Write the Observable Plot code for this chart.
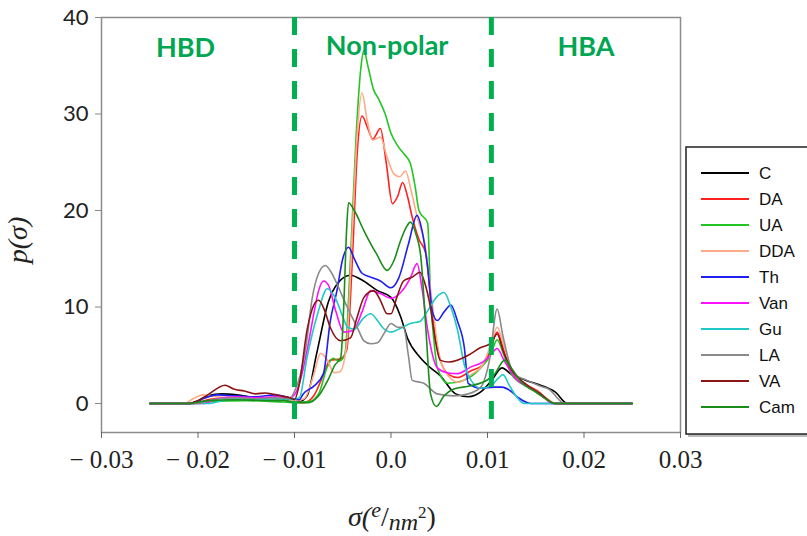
<!DOCTYPE html>
<html><head><meta charset="utf-8">
<script src="https://cdn.jsdelivr.net/npm/d3@7"></script>
<script src="https://cdn.jsdelivr.net/npm/@observablehq/plot@0.6"></script>
<style>body{margin:0;background:#fff} #chart{width:807px;height:536px}</style>
</head><body><div id="chart"></div>
<script>
// sigma in units of 0.001 e/nm^2, p(sigma)
const seriesNames = ["C","DA","UA","DDA","Th","Van","Gu","LA","VA","Cam"];
const seriesColors = ["#000000","#ff2020","#22c622","#ffaa88","#1f1ff0","#ff10ff","#20c8c8","#8a8a8a","#8b1515","#1a8c1a"];

const C = [[-25,0],[-21,0],[-20,0.3],[-19,0.8],[-17.5,1.0],[-16,0.9],[-14,0.6],[-12,0.5],[-10.5,0.3],[-9.5,0.2],[-8.7,0.8],[-7.7,5.2],[-6.5,10.5],[-5.5,12.5],[-4.2,13.3],[-3,12.8],[-1.4,11.7],[0,11],[1,9],[1.7,6.8],[3,4.8],[4.1,3.7],[5.1,2.9],[6.7,1.0],[8,0.7],[9.3,1.2],[10.5,2.5],[11.5,3.7],[12.5,3.0],[14,2.4],[15.5,1.9],[17,1.2],[18.3,0],[25,0]];
const DA = [[-25,0],[-20.5,0],[-19,0.4],[-17,0.6],[-15,0.5],[-13,0.6],[-11,0.4],[-10,0.2],[-9,0.1],[-8,0.8],[-7,3],[-6.3,4.5],[-5.3,4.6],[-4.6,5.5],[-4,15],[-3.5,26],[-3.0,29.8],[-2.4,28.5],[-1.9,27.4],[-1.1,28.5],[-0.5,25],[0.15,20.7],[0.7,21.5],[1.2,22.9],[1.7,21.5],[2.2,19.3],[2.9,17],[3.6,15.6],[4.2,10],[5.1,4.5],[6,3],[6.9,2.7],[8.3,3.4],[9.5,4],[10.3,5.5],[11,7.4],[11.6,5.8],[12.4,3.4],[13.5,2.3],[15.2,1.3],[16.9,0],[25,0]];
const UA = [[-25,0],[-21,0],[-19,0.2],[-15,0.3],[-12,0.2],[-10,0.1],[-8.5,0.2],[-7.5,1],[-6.6,3.8],[-6,4.7],[-5.4,4.4],[-4.8,5],[-4.2,15],[-3.6,28],[-3.1,35],[-2.8,36.6],[-2.4,35],[-1.8,32.5],[-1.3,31.6],[-0.6,30],[0,28],[0.7,26.7],[1.4,25.8],[2.0,24.9],[2.5,22.5],[2.9,20],[3.8,18.7],[4.1,11],[4.5,6],[4.8,3.7],[5.9,2.1],[7.5,2.4],[9.3,3.7],[10.3,5],[11,6.6],[11.7,5],[12.5,3],[14,1.8],[15.5,1],[17,0],[25,0]];
const DDA = [[-25,0],[-21.5,0],[-20.5,0.5],[-19.5,0.9],[-18,0.7],[-16,0.6],[-14,0.5],[-12,0.5],[-10,0.3],[-9,0.5],[-8,3],[-7.3,5.2],[-6.6,4.5],[-5.9,3.2],[-5.3,3.3],[-4.6,6],[-4,18],[-3.5,28],[-3.0,32.2],[-2.5,29.5],[-1.9,27.3],[-1.1,27.6],[-0.4,25.5],[0.3,23.8],[0.9,23.5],[1.5,24.1],[2.1,22],[2.8,19],[3.5,16.6],[4.2,11],[5,5],[6,2.8],[7,2.2],[8.3,3],[9.5,4],[10.3,6],[11,7.9],[11.7,6],[12.5,3.5],[13.5,2.2],[15,1.3],[16.5,0.3],[17,0],[25,0]];
const Th = [[-25,0],[-20.5,0],[-19.5,0.5],[-18,0.9],[-16,0.8],[-14,0.7],[-12,0.9],[-10.5,0.6],[-9.5,0.4],[-9.1,1.0],[-8,1.8],[-7,3.1],[-6.3,8.5],[-5.6,11.7],[-5,15],[-4.4,16.2],[-3.8,15],[-3,13.5],[-2.1,13.1],[-1.1,12.7],[0,12],[0.8,13],[1.8,16.5],[2.7,19.5],[3.2,18],[3.8,14.1],[4.3,9.5],[4.8,8.6],[5.5,9.5],[6.2,10.2],[6.9,8.5],[7.6,5.8],[8.0,2.1],[9.3,1.6],[10.7,1.7],[11.5,1.7],[12.4,1.3],[13.2,0.6],[14.1,0.1],[14.5,0],[25,0]];
const Van = [[-25,0],[-19.5,0],[-18,0.5],[-16,0.7],[-14,0.6],[-12,0.7],[-10.5,0.6],[-10,0.9],[-9.4,2.4],[-8.6,6],[-8.0,9.3],[-7.5,11.7],[-7.0,12.7],[-6.5,12.3],[-5.7,9.5],[-4.9,7.4],[-3.9,7.6],[-3,9.5],[-2.1,11.7],[-1.1,11.4],[0,10.9],[1,11.5],[2,13],[2.7,14.5],[3.2,12],[3.8,7.6],[4.8,3.7],[5.8,3.2],[6.9,3.1],[8.3,3.8],[9.5,4.3],[10.3,5],[11,5.7],[11.7,4.5],[13,2.5],[14.5,1.6],[16,0.5],[16.7,0],[25,0]];
const Gu = [[-25,0],[-19,0],[-17.5,0.3],[-16,0.5],[-14,0.4],[-12,0.5],[-10.5,0.4],[-9.5,0.6],[-8.7,4.8],[-7.6,9.3],[-6.6,11.9],[-5.8,11],[-5,9],[-4.5,7.9],[-3.8,7.7],[-2.9,8.8],[-2.1,9.3],[-1.4,8.6],[-0.8,7.8],[0,7.4],[1,7.8],[2,8.3],[3,8.5],[3.8,9.6],[4.7,11],[5.5,11.5],[6.2,10],[6.9,7.6],[7.6,4],[8.3,2.4],[9.3,1.6],[10.3,1.8],[11.1,2.6],[11.6,3.0],[12.3,1.8],[13.1,0.6],[13.8,0],[25,0]];
const LA = [[-25,0],[-20,0],[-18.5,0.4],[-16,0.6],[-14,0.5],[-12,0.6],[-10.5,0.5],[-9.9,1.5],[-9.4,3],[-8.8,6],[-8.2,10.7],[-7.5,13.5],[-6.8,14.3],[-6.2,13.6],[-5.6,12.4],[-4.9,10.8],[-4.2,9.3],[-3.5,7.9],[-2.8,6.5],[-2.1,6.2],[-1.4,6.3],[-0.7,7.3],[0,8.3],[0.7,7.9],[1.3,7.9],[1.8,5],[2.2,2.4],[3.4,2.1],[4.8,1.0],[6.5,0.8],[8,1.0],[9.3,1.7],[10.2,4.5],[11,9.8],[11.6,7],[12.7,3.1],[14.1,2.4],[15.5,1.8],[16.5,1.4],[17.3,0.5],[18,0],[25,0]];
const VA = [[-25,0],[-21,0],[-20,0.3],[-19,0.9],[-17.2,1.9],[-16.3,1.5],[-15.2,1.3],[-14,1.0],[-13,1.1],[-11.5,0.8],[-10.5,0.6],[-10,0.4],[-9.5,2],[-8.7,7.6],[-8,10.2],[-7.5,10.7],[-6.9,9.7],[-6.3,7.9],[-5.2,6.5],[-4.2,6.8],[-3.5,9],[-2.8,11],[-1.8,11.7],[-1.1,10.7],[-0.4,9.3],[0,9.3],[0.6,11],[1.3,12.7],[2.2,13.1],[3.0,13.6],[3.5,12.5],[4.1,9.9],[4.6,6.5],[5.1,4.5],[6,4.3],[6.9,4.5],[8,5.0],[9.3,5.8],[10.3,6.2],[11,7.2],[11.6,5.5],[12.5,3.5],[14,2],[15.5,1],[17,0],[25,0]];
const Cam = [[-25,0],[-21,0],[-19,0.3],[-16,0.4],[-13,0.3],[-11,0.3],[-10,0.1],[-8.5,0.1],[-7.5,0.8],[-6.5,2.5],[-5.8,4.0],[-5.2,4.8],[-4.9,10],[-4.6,18],[-4.4,20.8],[-3.8,20],[-2.8,17.9],[-1.5,15.5],[-0.4,13.8],[0.3,14.8],[1.0,16.9],[1.6,18.3],[2.0,18.8],[2.6,17.5],[3.1,15.1],[3.6,8],[4.1,1.0],[4.7,-0.3],[5.5,0.8],[6.5,1.5],[8,1.8],[9.5,2.2],[10.7,3],[11.8,4.5],[12.6,3.5],[13.5,2.2],[15,1.2],[16.5,0.2],[17,0],[25,0]];

const xTicks = [-0.03,-0.02,-0.01,0,0.01,0.02,0.03];
const xTickLabels = ["\u2212 0.03","\u2212 0.02","\u2212 0.01","0.0","0.01","0.02","0.03"];
const yTicks = [0,10,20,30,40];
const regionNames = ["HBD","Non-polar","HBA"];
const regionX = [-0.0213,-0.0004,0.0202];
const regionY = [36.8,37.0,36.9];
const boundaries = [-0.01,0.0104];

const seriesData = [C,DA,UA,DDA,Th,Van,Gu,LA,VA,Cam];
const rows = seriesData.flatMap((pts,i)=>pts.map(([x,y])=>({series:seriesNames[i],x:x/1000,y})));
const regions = regionNames.map((t,i)=>({t,x:regionX[i],y:regionY[i]}));

const plot = Plot.plot({
  width:807, height:536,
  marginLeft:101, marginRight:127, marginTop:17, marginBottom:104,
  style:{background:"#fff"},
  x:{domain:[-0.03,0.03]},
  y:{domain:[-3,40]},
  color:{domain:seriesNames, range:seriesColors},
  marks:[
    Plot.frame({stroke:"#8c8c8c", strokeWidth:1.5}),
    Plot.line(rows,{x:"x",y:"y",z:"series",stroke:"series",strokeWidth:1.6,curve:"monotone-x"}),
    Plot.ruleX(boundaries,{y1:40,y2:-3,stroke:"#00b050",strokeWidth:5,strokeDasharray:"18,14"}),
    Plot.text(regions,{x:"x",y:"y",text:"t",fill:"#00a651",fontWeight:"bold",fontSize:27,fontFamily:"Lato"}),
    Plot.axisY(yTicks,{tickSize:6,tickPadding:7,fontSize:22,fontFamily:"Lato",stroke:"#888",fill:"#222",label:null}),
    Plot.axisX(xTicks,{tickSize:6,tickPadding:12,fontSize:25,fontFamily:"Liberation Serif",stroke:"#666",fill:"#222",label:null,
      tickFormat:d=>xTickLabels[xTicks.indexOf(d)]})
  ]
});
document.getElementById("chart").appendChild(plot);

const svg = d3.select(plot);
// y axis title
svg.append("text").attr("transform","translate(27,240) rotate(-90)")
  .attr("text-anchor","middle").attr("font-family","Liberation Serif").attr("font-style","italic")
  .attr("font-size",28).attr("fill","#222").text("p(\u03c3)");
// x axis title
const xt = svg.append("text").attr("x",392).attr("y",526).attr("text-anchor","middle")
  .attr("font-family","Liberation Serif").attr("font-size",28).attr("fill","#222");
xt.append("tspan").attr("font-style","italic").text("\u03c3(");
xt.append("tspan").attr("font-style","italic").attr("font-size",22).attr("dy",-9).text("e");
xt.append("tspan").attr("dy",9).text("/");
xt.append("tspan").attr("font-style","italic").attr("font-size",24).attr("dy",4).text("nm");
xt.append("tspan").attr("font-size",17).attr("dy",-12).text("2");
xt.append("tspan").attr("dy",8).text(")");
// legend
const lg = svg.append("g").attr("text-anchor","start");
lg.append("rect").attr("x",688).attr("y",149).attr("width",130).attr("height",288).attr("fill","#bbb");
lg.append("rect").attr("x",686).attr("y",147).attr("width",130).attr("height",287).attr("fill","#fff").attr("stroke","#222").attr("stroke-width",1.5);
seriesNames.forEach((n,i)=>{
  const y = 173 + i*26;
  lg.append("line").attr("x1",701).attr("x2",749).attr("y1",y).attr("y2",y).attr("stroke",seriesColors[i]).attr("stroke-width",2);
  lg.append("text").attr("x",759).attr("y",y+6).attr("text-anchor","start").attr("font-family","Liberation Sans").attr("font-size",17).attr("fill","#111").text(n);
});
</script></body></html>
